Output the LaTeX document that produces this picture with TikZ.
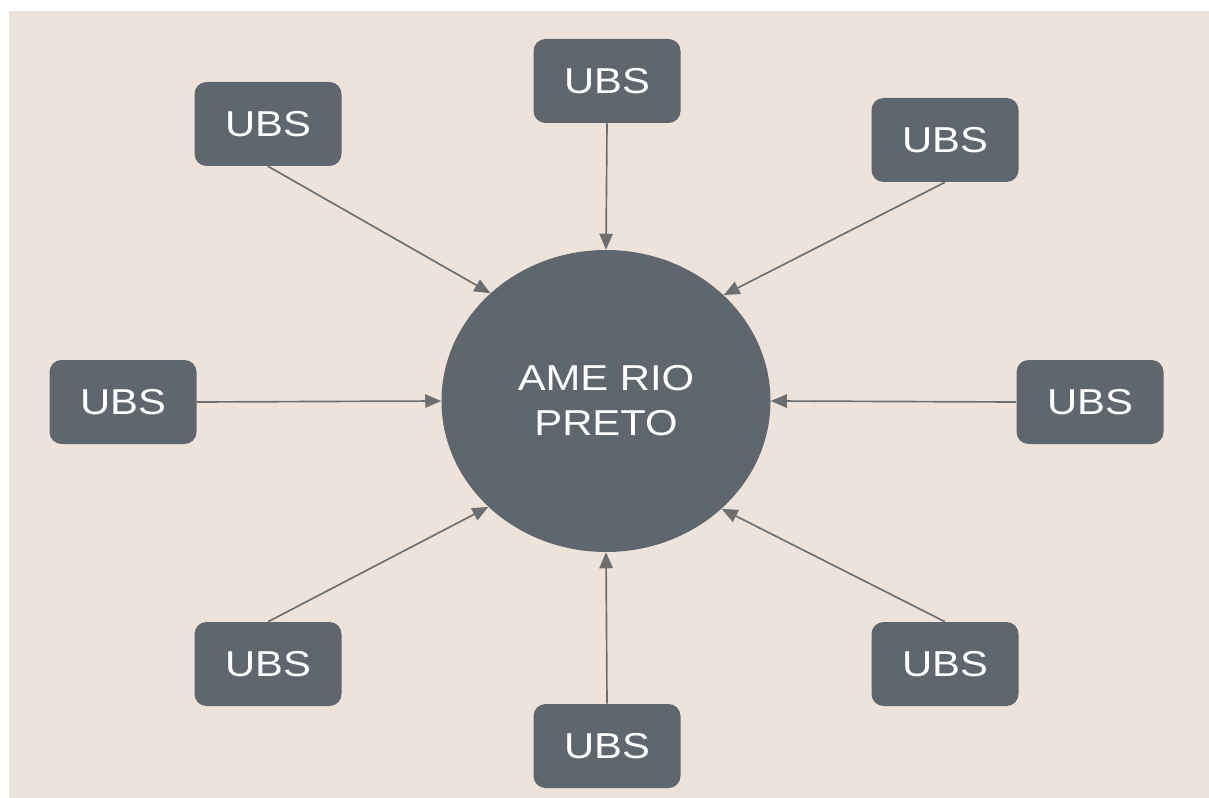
\documentclass[tikz,border=0pt]{standalone}
\usepackage{fontspec}
\newfontfamily\labfont[FakeStretch=1.16]{Liberation Sans}
\usetikzlibrary{shapes.geometric,arrows.meta}
\definecolor{bg}{RGB}{237,227,218}
\definecolor{boxc}{RGB}{95,102,110}
\definecolor{linec}{RGB}{108,111,114}
\begin{document}
\begin{tikzpicture}[x=0.75pt,y=-0.75pt,
  ubs/.style={fill=boxc, rounded corners=9pt, minimum width=110.25pt, minimum height=63pt,
    text=white, font=\labfont\fontsize{27}{33.75}\selectfont, inner sep=0pt},
  hub/.style={ellipse, fill=boxc, minimum width=246.75pt, minimum height=226.5pt,
    text=white, align=center, font=\labfont\fontsize{27}{33.75}\selectfont, inner sep=0pt},
  link/.style={draw=linec, line width=1.25pt, -{Triangle[length=12pt,width=10pt]}}]
\useasboundingbox (0,0) rectangle (1209,798);
\fill[white] (0,0) rectangle (1209,798);
\fill[bg] (9,11) rectangle (1209,798);
\node[hub] (c) at (606,401) {AME RIO\\PRETO};
\node[ubs] (t) at (607,81) {UBS};
\node[ubs] (tl) at (268,124) {UBS};
\node[ubs] (tr) at (945,140) {UBS};
\node[ubs] (l) at (123,402) {UBS};
\node[ubs] (r) at (1090,402) {UBS};
\node[ubs] (bl) at (268,664) {UBS};
\node[ubs] (b) at (607,746) {UBS};
\node[ubs] (br) at (945,664) {UBS};
\draw[link] (t.south) -- (c.north);
\draw[link] (tl.south) -- (c.137.6);
\draw[link] (tr.south) -- (c.42.4);
\draw[link] (l.east) -- (c.west);
\draw[link] (r.west) -- (c.east);
\draw[link] (bl.north) -- (c.222.6);
\draw[link] (b.north) -- (c.south);
\draw[link] (br.north) -- (c.317.4);
\end{tikzpicture}
\end{document}
